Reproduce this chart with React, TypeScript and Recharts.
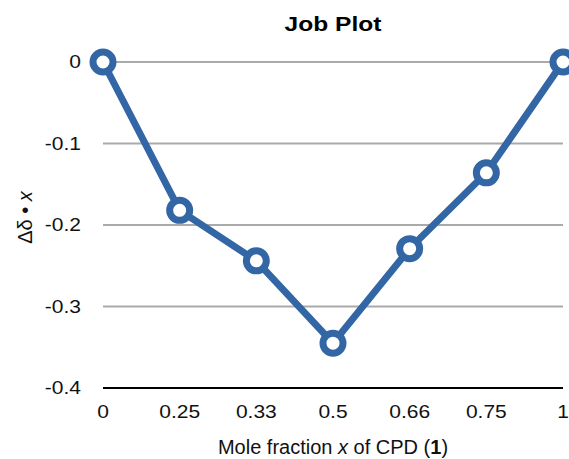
import React from "react";
import { LineChart, Line, XAxis, YAxis, CartesianGrid } from "recharts";

const categories = ["0", "0.25", "0.33", "0.5", "0.66", "0.75", "1"];
const values = [0, -0.182, -0.244, -0.345, -0.229, -0.136, 0];
const yTicks = [0, -0.1, -0.2, -0.3, -0.4];

const data = categories.map((c, i) => ({ x: c, y: values[i] }));

const BLUE = "#3366a5";
const FONT = "'Liberation Sans', Arial, Helvetica, sans-serif";

const Dot = (props: any) => {
  const { cx, cy, index } = props;
  if (cx == null || cy == null) return null;
  return <circle key={index} cx={cx} cy={cy} r={10} fill="#fff" stroke={BLUE} strokeWidth={7} />;
};

const XTick = (props: any) => {
  const { x, y, payload } = props;
  return (
    <text
      transform={`translate(${x},${y}) scale(1.2,1)`}
      x={0}
      y={0}
      dy="0.71em"
      textAnchor="middle"
      fontFamily={FONT}
      fontSize={17.5}
      fill="#111"
    >
      {payload.value}
    </text>
  );
};

const YTick = (props: any) => {
  const { x, y, payload } = props;
  return (
    <text
      transform={`translate(${x},${y}) scale(1.2,1)`}
      x={0}
      y={0}
      dy="0.355em"
      textAnchor="end"
      fontFamily={FONT}
      fontSize={17.5}
      fill="#111"
    >
      {payload.value}
    </text>
  );
};

export default function App() {
  return (
    <div style={{ position: "absolute", left: 0, top: 0, width: 569, height: 459, background: "#fff" }}>
      <LineChart width={569} height={459} data={data} margin={{ top: 62, right: 6, bottom: 0, left: 0 }}>
        <CartesianGrid vertical={false} stroke="#aaaaaa" strokeWidth={2} />
        <XAxis
          dataKey="x"
          height={71}
          tickLine={false}
          axisLine={{ stroke: "#000", strokeWidth: 2 }}
          tickMargin={12}
          tick={<XTick />}
          interval={0}
        />
        <YAxis
          width={103}
          domain={[-0.4, 0]}
          ticks={yTicks}
          tickLine={false}
          axisLine={false}
          tickMargin={16}
          tick={<YTick />}
        />
        <Line
          type="linear"
          dataKey="y"
          stroke={BLUE}
          strokeWidth={7}
          dot={<Dot />}
          activeDot={false}
          isAnimationActive={false}
        />
        <text
          transform="translate(333,31) scale(1.17,1)"
          x={0}
          y={0}
          textAnchor="middle"
          fontFamily={FONT}
          fontWeight="bold"
          fontSize={21}
          fill="#000"
        >
          Job Plot
        </text>
        <text x={333} y={454} textAnchor="middle" fontFamily={FONT} fontSize={20} fill="#111">
          Mole fraction <tspan fontStyle="italic">x</tspan> of CPD (<tspan fontWeight="bold">1</tspan>)
        </text>
        <text
          x={0}
          y={0}
          transform="translate(32, 217.5) rotate(-90)"
          textAnchor="middle"
          fontFamily={FONT}
          fontSize={20}
          fill="#111"
        >
          Δδ • <tspan fontStyle="italic">x</tspan>
        </text>
      </LineChart>
    </div>
  );
}
